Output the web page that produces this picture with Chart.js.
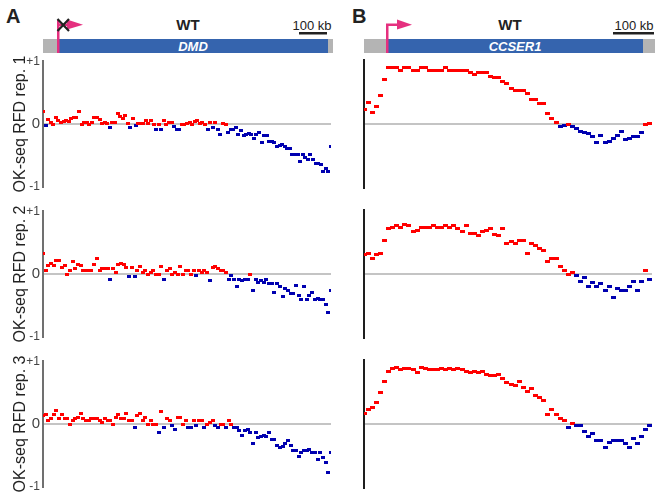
<!DOCTYPE html>
<html>
<head>
<meta charset="utf-8">
<script src="https://cdn.jsdelivr.net/npm/chart.js@4"></script>
<style>
  body { margin: 0; background: #fff; }
  #wrap { position: relative; width: 657px; height: 494px; overflow: hidden; font-family: "Liberation Sans", Arial, sans-serif; }
  #wrap canvas { position: absolute; }
  #hdr { position: absolute; left: 0; top: 0; }
</style>
</head>
<body>
<div id="wrap">
  <svg id="hdr" width="657" height="60" font-family="Liberation Sans, Arial, sans-serif">
    <!-- panel A header -->
    <text x="6" y="23" font-size="20" font-weight="bold" fill="#222">A</text>
    <text x="188" y="30" font-size="15" font-weight="bold" fill="#222" text-anchor="middle">WT</text>
    <text x="312" y="30" font-size="13" fill="#222" text-anchor="middle">100 kb</text>
    <rect x="299" y="32" width="28" height="2.5" fill="#222"/>
    <rect x="43" y="39" width="290" height="14" fill="#b4b4b4"/>
    <rect x="58" y="39" width="270" height="14" fill="#3564ae"/>
    <text x="193" y="50.5" font-size="13" font-weight="bold" font-style="italic" fill="#fff" text-anchor="middle">DMD</text>
    <rect x="57" y="20" width="2.5" height="33" fill="#e5307f"/>
    <rect x="58" y="23.5" width="12" height="2.5" fill="#e5307f"/>
    <polygon points="67,19.5 83,24.8 67,29.5" fill="#e5307f"/>
    <path d="M57.5 19 L69 31 M69 19 L57.5 31" stroke="#222" stroke-width="2.2"/>
    <!-- panel B header -->
    <text x="352" y="23" font-size="20" font-weight="bold" fill="#222">B</text>
    <text x="510" y="30" font-size="15" font-weight="bold" fill="#222" text-anchor="middle">WT</text>
    <text x="634" y="30" font-size="13" fill="#222" text-anchor="middle">100 kb</text>
    <rect x="613" y="32" width="41" height="2.5" fill="#222"/>
    <rect x="364" y="39" width="291" height="14" fill="#b4b4b4"/>
    <rect x="386" y="39" width="257" height="14" fill="#3564ae"/>
    <text x="515" y="50.5" font-size="13" font-weight="bold" font-style="italic" fill="#fff" text-anchor="middle">CCSER1</text>
    <rect x="386" y="24" width="2.5" height="29" fill="#e5307f"/>
    <rect x="386" y="23.5" width="13" height="2.5" fill="#e5307f"/>
    <polygon points="397,19.5 412,24.8 397,29.5" fill="#e5307f"/>
  </svg>
  <canvas id="a1"></canvas>
  <canvas id="a2"></canvas>
  <canvas id="a3"></canvas>
  <canvas id="b1"></canvas>
  <canvas id="b2"></canvas>
  <canvas id="b3"></canvas>
</div>
<script>
// RFD values per bin, read left to right off the figure
var dmdRep1 = [0.20,-0.03,0.07,0.03,0.00,0.11,0.06,0.02,0.04,0.06,
  0.04,0.08,0.11,0.11,0.20,0.00,0.03,0.02,0.00,0.03,
  0.11,0.11,0.07,0.01,0.03,0.01,-0.05,0.02,0.03,0.16,
  0.12,0.08,0.14,0.01,-0.05,0.08,-0.03,0.01,0.01,0.01,
  0.06,0.01,0.06,0.00,-0.08,0.00,-0.08,0.06,0.00,0.02,
  0.03,-0.04,-0.08,-0.08,0.00,0.00,0.01,0.02,0.00,0.04,
  0.06,0.01,0.03,0.00,-0.08,0.02,-0.05,0.03,-0.08,-0.16,
  0.01,0.00,-0.14,-0.09,-0.08,-0.05,-0.16,-0.10,-0.19,-0.16,
  -0.15,-0.16,-0.23,-0.16,-0.14,-0.30,-0.19,-0.19,-0.28,-0.28,
  -0.30,-0.36,-0.34,-0.33,-0.36,-0.39,-0.39,-0.49,-0.49,-0.49,
  -0.59,-0.49,-0.54,-0.56,-0.49,-0.56,-0.63,-0.63,-0.65,-0.76,
  -0.71,-0.75,-0.36];
var dmdRep2 = [0.32,0.06,0.13,0.17,0.13,0.21,0.22,0.11,0.13,0.00,
  0.06,0.20,0.09,0.15,0.13,0.05,0.06,0.05,0.06,0.15,
  0.25,0.06,0.09,0.09,0.09,-0.09,0.09,0.02,0.15,0.17,
  0.15,0.11,-0.04,0.11,-0.04,0.05,0.12,0.02,0.06,0.00,
  0.02,0.05,0.00,0.00,0.12,-0.08,0.05,0.09,0.00,0.02,
  0.00,0.12,0.00,0.06,0.05,0.00,0.06,-0.03,0.06,0.02,
  0.05,0.02,-0.11,0.11,0.12,0.09,0.05,0.05,0.02,-0.09,
  -0.03,-0.09,-0.20,-0.09,-0.11,-0.09,-0.09,0.00,-0.26,-0.09,
  -0.14,-0.11,-0.14,-0.09,-0.15,-0.15,-0.29,-0.15,-0.20,-0.36,
  -0.23,-0.26,-0.31,-0.31,-0.19,-0.34,-0.40,-0.20,-0.40,-0.34,
  -0.29,-0.40,-0.39,-0.40,-0.40,-0.49,-0.62,-0.26];
var dmdRep3 = [0.14,0.15,0.06,0.09,0.15,0.22,0.09,0.15,0.09,0.09,
  0.00,0.06,0.09,0.11,0.17,0.09,0.06,0.06,0.09,0.09,
  0.09,0.06,0.02,0.09,0.05,0.05,0.00,0.11,0.15,0.09,
  0.09,0.17,0.05,0.06,-0.05,0.14,0.17,0.05,0.11,0.00,
  0.06,0.00,0.00,-0.14,0.20,-0.05,0.09,0.05,-0.02,-0.09,
  0.11,0.11,0.00,0.05,-0.06,-0.05,0.06,-0.02,0.05,0.06,
  -0.06,0.00,0.02,0.05,-0.02,-0.06,0.00,0.00,-0.05,0.06,
  0.00,-0.05,-0.06,-0.11,-0.19,-0.11,-0.09,-0.14,-0.31,-0.14,
  -0.22,-0.20,-0.19,-0.20,-0.14,-0.25,-0.25,-0.34,-0.37,-0.36,
  -0.31,-0.26,-0.34,-0.42,-0.42,-0.51,-0.46,-0.42,-0.42,-0.40,
  -0.46,-0.46,-0.57,-0.46,-0.54,-0.62,-0.77,-0.45];

var ccserRep1 = [0.22,0.33,0.18,0.28,0.44,0.69,0.89,0.89,0.88,0.84,
  0.89,0.88,0.84,0.84,0.88,0.88,0.84,0.83,0.84,0.84,
  0.88,0.84,0.84,0.84,0.83,0.84,0.80,0.78,0.80,0.80,
  0.80,0.74,0.72,0.72,0.67,0.64,0.56,0.53,0.52,0.53,
  0.47,0.38,0.38,0.32,0.32,0.16,0.08,0.02,-0.04,-0.03,
  0.00,-0.04,-0.07,-0.12,-0.13,-0.15,-0.20,-0.29,-0.18,-0.29,
  -0.27,-0.23,-0.18,-0.12,-0.24,-0.23,-0.20,-0.20,-0.13,0.00,
  0.01];
var ccserRep2 = [0.31,0.32,0.25,0.31,0.32,0.53,0.71,0.73,0.76,0.73,
  0.77,0.76,0.66,0.68,0.73,0.73,0.73,0.76,0.73,0.73,
  0.76,0.73,0.76,0.71,0.66,0.76,0.63,0.63,0.60,0.66,
  0.68,0.71,0.62,0.60,0.71,0.48,0.51,0.48,0.53,0.53,
  0.32,0.48,0.45,0.40,0.37,0.20,0.25,0.25,0.11,0.05,
  0.00,0.02,-0.03,-0.11,-0.05,-0.20,-0.14,-0.20,-0.15,-0.25,
  -0.20,-0.36,-0.23,-0.25,-0.25,-0.19,-0.11,-0.25,-0.11,0.05,
  -0.08];
var ccserRep3 = [0.17,0.22,0.26,0.34,0.49,0.66,0.82,0.87,0.88,0.85,
  0.87,0.87,0.85,0.80,0.88,0.87,0.85,0.85,0.85,0.87,
  0.85,0.87,0.85,0.87,0.85,0.82,0.80,0.82,0.80,0.82,
  0.77,0.76,0.76,0.77,0.71,0.65,0.62,0.60,0.66,0.57,
  0.51,0.56,0.45,0.42,0.37,0.15,0.22,0.15,0.09,0.06,
  -0.05,0.01,-0.02,-0.02,-0.11,-0.20,-0.15,-0.25,-0.25,-0.36,
  -0.29,-0.26,-0.26,-0.26,-0.31,-0.36,-0.22,-0.31,-0.20,-0.09,
  -0.02];

var yTicks = [-1, 0, 1];
var tickText = {"-1": "-1", "0": "0", "1": "+1"};
var repTitles = ["OK-seq RFD rep. 1", "OK-seq RFD rep. 2", "OK-seq RFD rep. 3"];

var RED = "#ff0000";
var BLUE = "#0000b0";

function box(w, h, color){
  var c = document.createElement("canvas");
  c.width = w; c.height = h;
  var g = c.getContext("2d");
  g.fillStyle = color;
  g.fillRect(0, 0, w, h);
  return c;
}
var dotsA = { red: box(4, 3, RED), blue: box(4, 3, BLUE) };
var dotsB = { red: box(5, 3, RED), blue: box(5, 3, BLUE) };

function place(id, left, top, w, h){
  var el = document.getElementById(id);
  el.style.left = left + "px";
  el.style.top = top + "px";
  el.style.width = w + "px";
  el.style.height = h + "px";
  el.width = w; el.height = h;
  return el;
}

function makePanel(id, values, row, isA){
  var pad = 9;
  var top = 60 + 150 * row - pad;
  var el = isA ? place(id, 0, top, 336, 128 + 2 * pad) : place(id, 340, top, 317, 128 + 2 * pad);
  var dots = isA ? dotsA : dotsB;
  var pts = values.map(function(v, i){ return { x: i, y: v }; });

  return new Chart(el, {
    type: "scatter",
    data: {
      datasets: [{
        data: pts,
        pointStyle: function(ctx){ return ctx.raw && ctx.raw.y < 0 ? dots.blue : dots.red; },
        pointRadius: 2,
        clip: 0
      }]
    },
    options: {
      animation: false,
      responsive: false,
      events: [],
      layout: { padding: { top: pad, bottom: pad, left: 0, right: isA ? 3 : 2 } },
      plugins: { legend: { display: false }, tooltip: { enabled: false } },
      scales: {
        x: {
          type: "linear",
          min: 0,
          max: isA ? values.length - 1 : values.length - 0.5,
          display: false
        },
        y: {
          min: -1,
          max: 1,
          afterBuildTicks: function(axis){ axis.ticks = yTicks.map(function(v){ return { value: v }; }); },
          afterFit: function(axis){ axis.width = isA ? 43 : 24; },
          border: { display: true, color: isA ? "#707070" : "#1e1e1e", width: 2 },
          grid: {
            drawTicks: false,
            lineWidth: 2,
            color: function(ctx){ return ctx.tick && ctx.tick.value === 0 ? "#c4c4c4" : "rgba(0,0,0,0)"; }
          },
          ticks: {
            display: isA,
            padding: 3,
            color: "#444",
            font: function(ctx){ return { family: "Liberation Sans, Arial, sans-serif", size: ctx.tick && ctx.tick.value === 0 ? 15 : 12 }; },
            callback: function(v){ return tickText[String(v)]; }
          },
          title: {
            display: isA,
            text: repTitles[row],
            color: "#222",
            font: { family: "Liberation Sans, Arial, sans-serif", size: 16 },
            padding: { top: 11, bottom: 0 }
          }
        }
      }
    }
  });
}

makePanel("a1", dmdRep1, 0, true);
makePanel("a2", dmdRep2, 1, true);
makePanel("a3", dmdRep3, 2, true);
makePanel("b1", ccserRep1, 0, false);
makePanel("b2", ccserRep2, 1, false);
makePanel("b3", ccserRep3, 2, false);
</script>
</body>
</html>
